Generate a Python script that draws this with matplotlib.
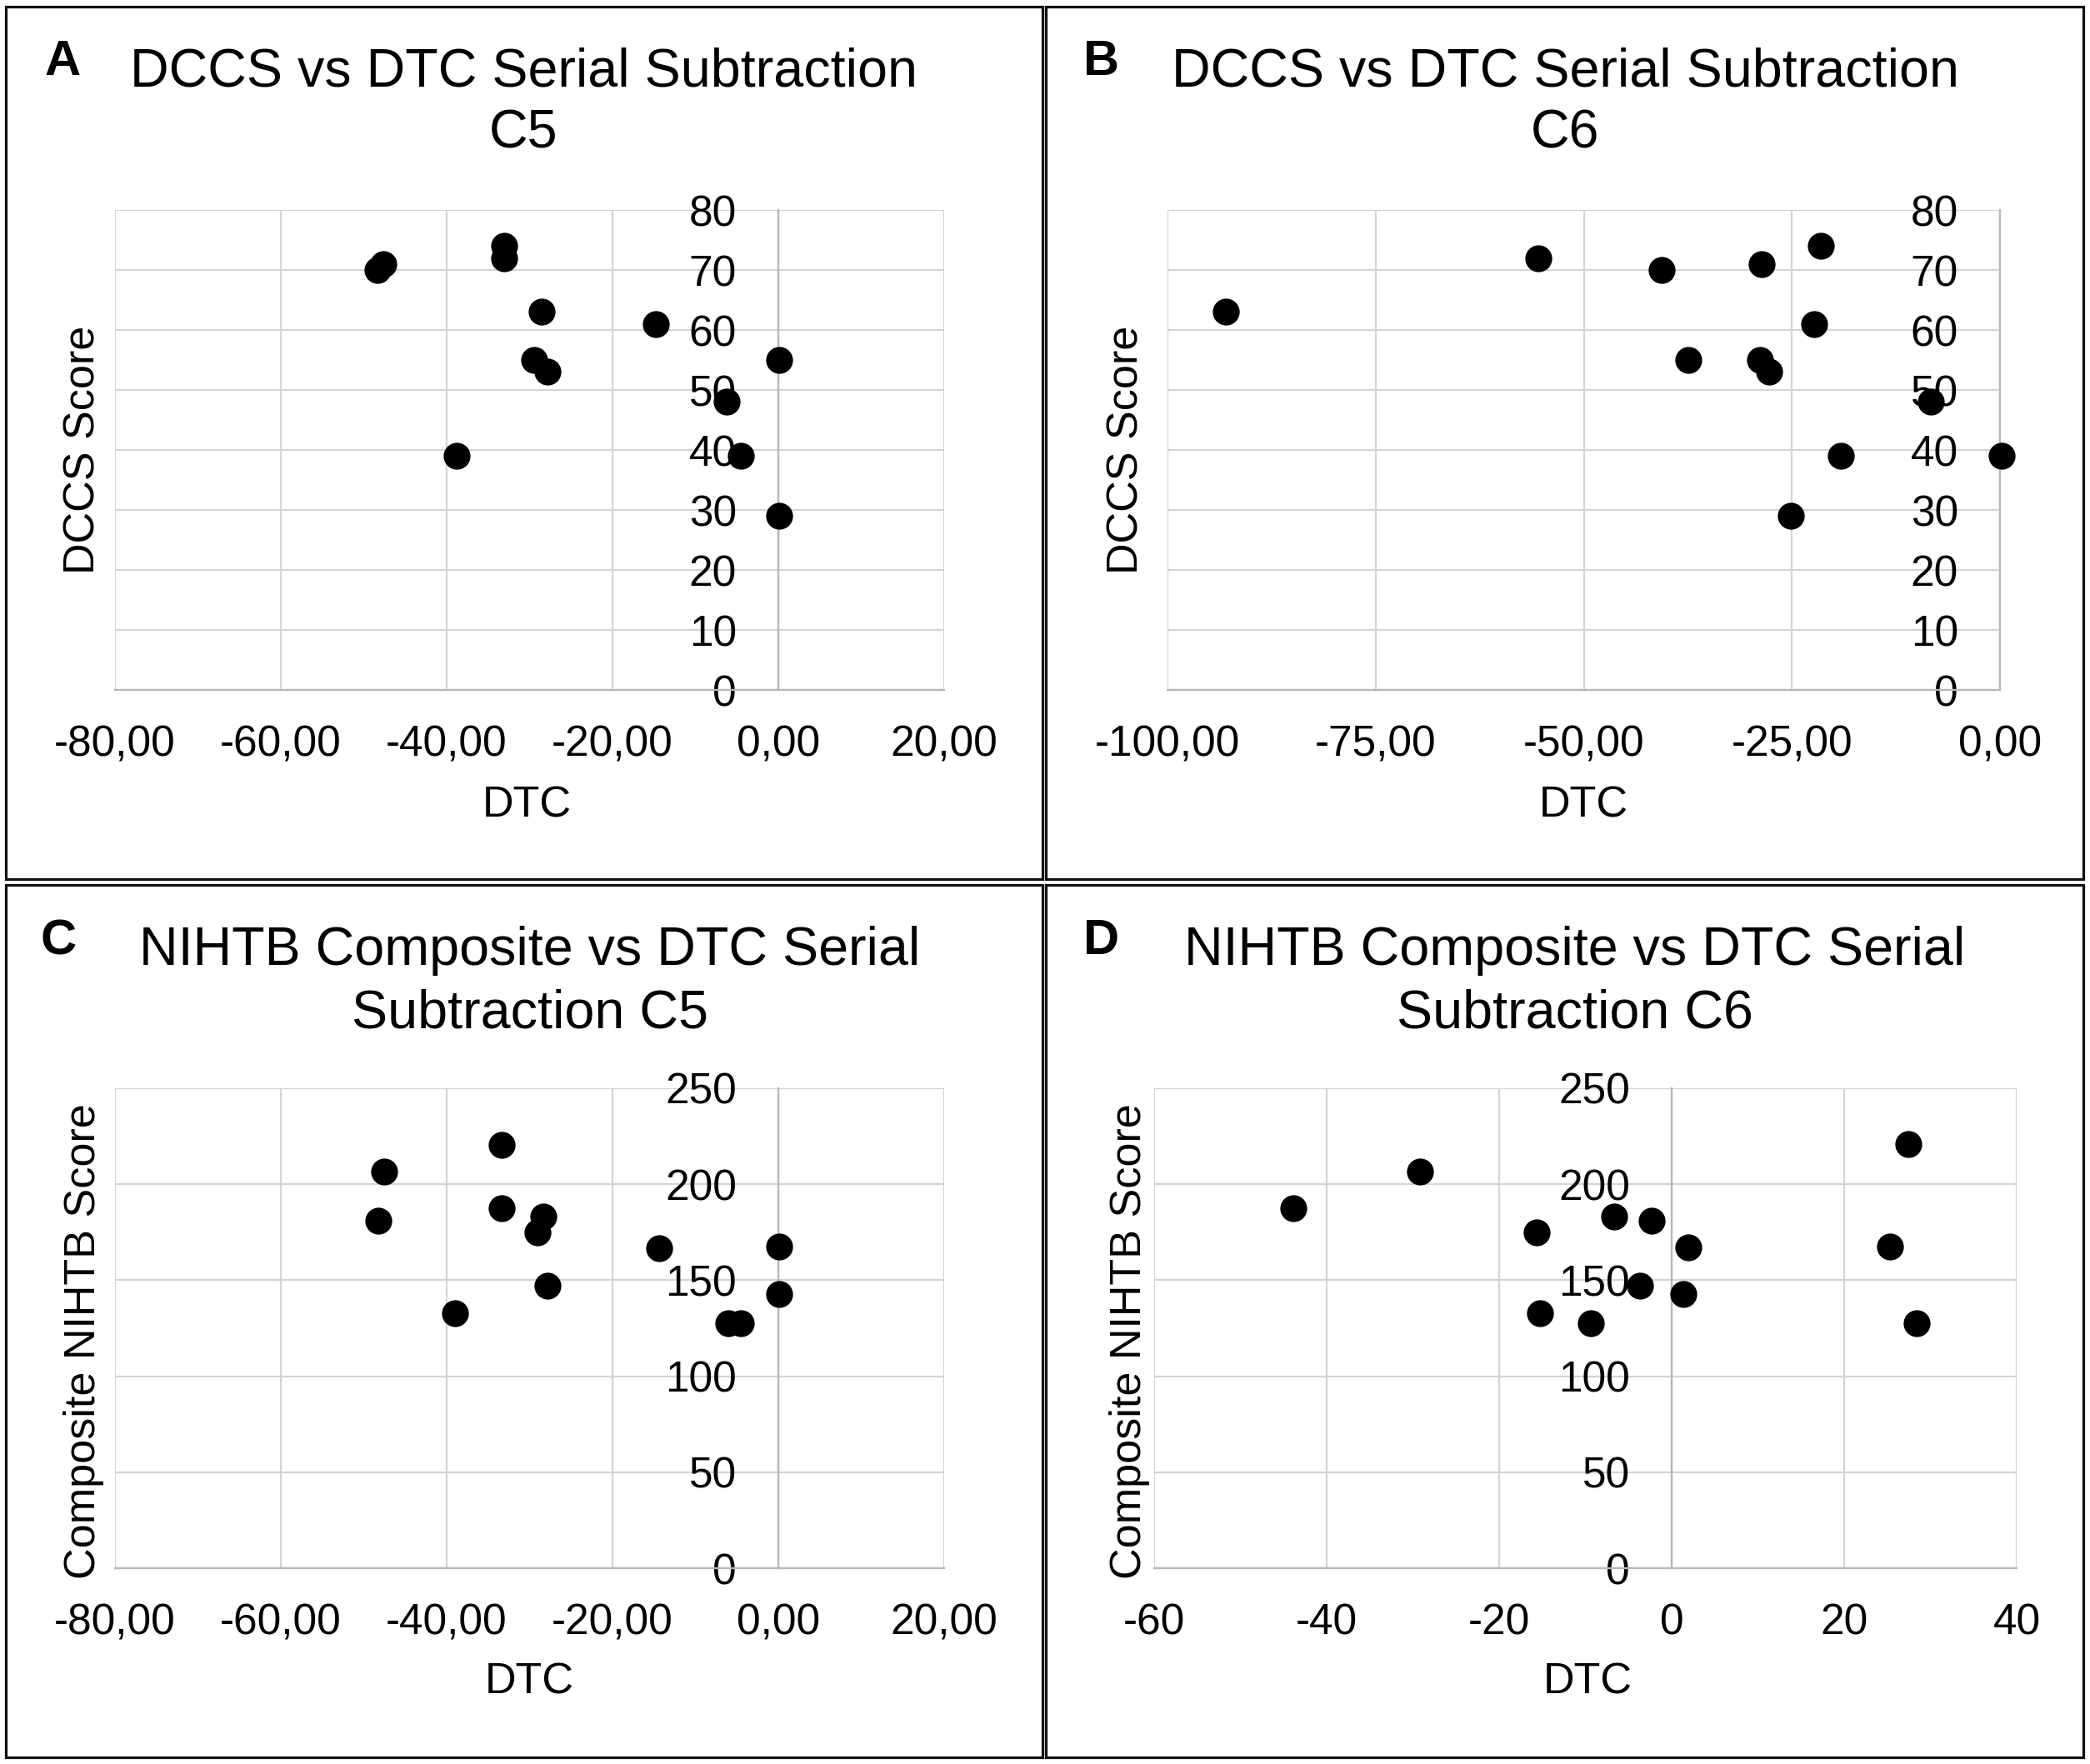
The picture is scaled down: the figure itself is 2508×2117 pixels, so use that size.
import matplotlib
matplotlib.use("Agg")
import matplotlib.pyplot as plt
from matplotlib.patches import Rectangle

plt.rcParams['font.family'] = ['Liberation Sans', 'DejaVu Sans']

W, H = 2508, 2117

# ---------------- data ----------------
# Panel A: DCCS vs DTC Serial Subtraction C5
a_dtc = [-48.3, -47.6, -33.1, -33.1, -28.5, -14.8, -29.4, -27.8, 0.1, -6.2, -4.5, -38.8, 0.1]
a_dccs = [70, 71, 74, 72, 63, 61, 55, 53, 55, 48, 39, 39, 29]

# Panel B: DCCS vs DTC Serial Subtraction C6
b_dtc = [-93.0, -55.5, -40.6, -28.6, -21.5, -22.3, -37.4, -28.8, -27.7, -8.3, -19.1, 0.2, -25.1]
b_dccs = [63, 72, 70, 71, 74, 61, 55, 55, 53, 48, 39, 39, 29]

# Panel C: NIHTB Composite vs DTC Serial Subtraction C5
c_dtc = [-47.5, -48.2, -33.4, -33.4, -28.3, -29.0, -27.8, -39.0, -14.4, 0.1, 0.1, -6.0, -4.5]
c_comp = [206.5, 181, 220.6, 187.4, 183.2, 175, 147, 133, 166.5, 167.6, 143, 127.6, 127.6]

# Panel D: NIHTB Composite vs DTC Serial Subtraction C6
d_dtc = [-43.9, -29.2, -15.7, -15.3, -9.4, -6.7, -2.3, -3.7, 1.9, 1.4, 25.3, 27.4, 28.4]
d_comp = [187.6, 206.5, 175, 133, 127.6, 183.2, 181.2, 147, 167, 143, 167.6, 221, 127.6]

# ticks / labels
a_xticks = [-80, -60, -40, -20, 0, 20]
a_xlabels = ['-80,00', '-60,00', '-40,00', '-20,00', '0,00', '20,00']
b_xticks = [-100, -75, -50, -25, 0]
b_xlabels = ['-100,00', '-75,00', '-50,00', '-25,00', '0,00']
d_xticks = [-60, -40, -20, 0, 20, 40]
d_xlabels = ['-60', '-40', '-20', '0', '20', '40']
dccs_yticks = [0, 10, 20, 30, 40, 50, 60, 70, 80]
comp_yticks = [0, 50, 100, 150, 200, 250]

titles = [
    ("DCCS vs DTC Serial Subtraction", "C5"),
    ("DCCS vs DTC Serial Subtraction", "C6"),
    ("NIHTB Composite vs DTC Serial", "Subtraction C5"),
    ("NIHTB Composite vs DTC Serial", "Subtraction C6"),
]
letters = ["A", "B", "C", "D"]
ylabels = ["DCCS Score", "DCCS Score", "Composite NIHTB Score", "Composite NIHTB Score"]

# ---------------- layout (pixel boxes) ----------------
def frac_box(x0, y0, x1, y1):
    return [x0 / W, 1 - y1 / H, (x1 - x0) / W, (y1 - y0) / H]

def P(x, y):
    return (x / W, 1 - y / H)

fig = plt.figure(figsize=(W / 100, H / 100), dpi=100)
fig.patch.set_facecolor('white')

plot_boxes = [
    (138, 252, 1133, 828),
    (1401, 252, 2400, 828),
    (138, 1306, 1133, 1882),
    (1385, 1306, 2420, 1882),
]
borders = [
    (7, 8, 1251, 1055),
    (1255, 8, 2500, 1055),
    (7, 1062, 1251, 2109),
    (1255, 1062, 2500, 2109),
]

panels = [
    (a_dtc, a_dccs, (-80, 20), (0, 80), a_xticks, a_xlabels, dccs_yticks),
    (b_dtc, b_dccs, (-100, 0), (0, 80), b_xticks, b_xlabels, dccs_yticks),
    (c_dtc, c_comp, (-80, 20), (0, 250), a_xticks, a_xlabels, comp_yticks),
    (d_dtc, d_comp, (-60, 40), (0, 250), d_xticks, d_xlabels, comp_yticks),
]

title_cx = [628, 1878, 636, 1890]
title_base = [(103, 178), (103, 178), (1158, 1233), (1158, 1233)]
letter_pos = [(75, 90), (1322, 90), (70, 1146), (1322, 1145)]
ylabel_pos = [(100, 540), (1352, 540), (101, 1610), (1355, 1610)]
xlabel_pos = [(632, 967), (1900, 967), (635, 2019), (1905, 2019)]

grid_c = '#d4d4d4'
axis_c = '#b8b8b8'
FS_TICK = 37
FS_LAB = 37.5
FS_TITLE = 46.5

for i, (xs, ys, xl, yl, xt, xtl, yt) in enumerate(panels):
    ax = fig.add_axes(frac_box(*plot_boxes[i]))
    ax.set_axisbelow(True)
    ax.scatter(xs, ys, s=540, color='black', zorder=3, clip_on=False, linewidths=0)
    ax.set_xlim(*xl)
    ax.set_ylim(*yl)
    ax.set_xticks(xt)
    ax.set_xticklabels(xtl)
    ax.set_yticks(yt)
    ax.set_yticklabels([str(v) for v in yt])
    ax.grid(True, color=grid_c, linewidth=1.6)
    for s in ['top', 'right']:
        ax.spines[s].set_visible(False)
    ax.spines['left'].set_position(('data', 0))
    ax.spines['left'].set_color(axis_c)
    ax.spines['left'].set_linewidth(1.7)
    ax.spines['bottom'].set_color(axis_c)
    ax.spines['bottom'].set_linewidth(1.7)
    ax.tick_params(axis='both', length=0, labelsize=FS_TICK, colors='black')
    ax.tick_params(axis='y', pad=36)
    ax.tick_params(axis='x', pad=30)

    t1, t2 = titles[i]
    b1, b2 = title_base[i]
    fig.text(*P(title_cx[i], b1), t1, fontsize=FS_TITLE, ha='center', va='baseline')
    fig.text(*P(title_cx[i], b2), t2, fontsize=FS_TITLE, ha='center', va='baseline')
    fig.text(*P(*letter_pos[i]), letters[i], fontsize=43, fontweight='bold',
             ha='center', va='baseline')
    fig.text(*P(*ylabel_pos[i]), ylabels[i], fontsize=FS_LAB, rotation=90,
             ha='center', va='center')
    fig.text(*P(*xlabel_pos[i]), "DTC", fontsize=FS_LAB, ha='center', va='center')

    x0, y0, x1, y1 = borders[i]
    rect = Rectangle((x0 / W, 1 - y1 / H), (x1 - x0) / W, (y1 - y0) / H,
                     transform=fig.transFigure, fill=False, edgecolor='#111111',
                     linewidth=2.3)
    fig.add_artist(rect)

fig.savefig('out.png', dpi=100, facecolor='white')
